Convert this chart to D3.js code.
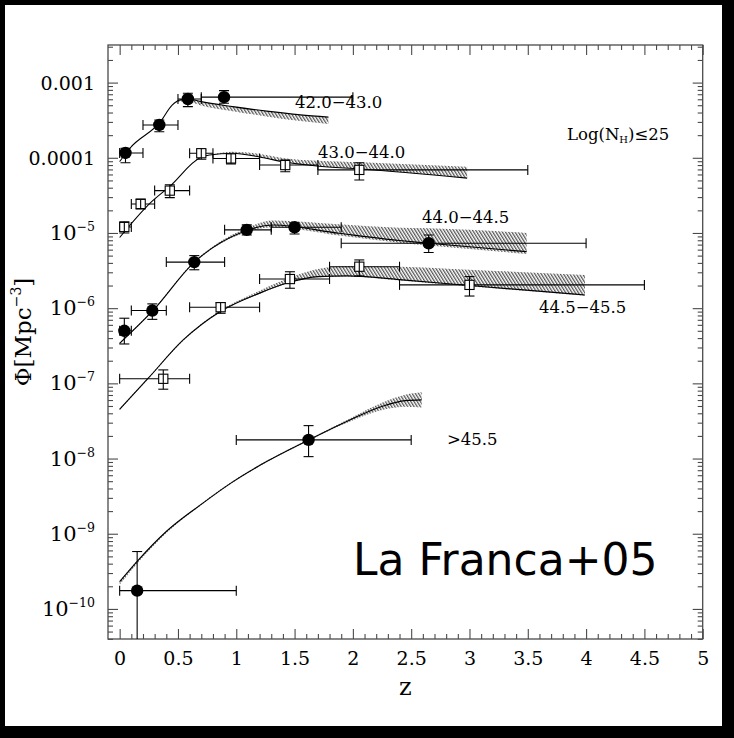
<!DOCTYPE html>
<html>
<head>
<meta charset="utf-8">
<script src="https://cdn.jsdelivr.net/npm/d3@7"></script>
<style>
  html, body { margin: 0; padding: 0; background: #000; }
  svg { display: block; }
</style>
</head>
<body>
<svg id="chart" width="734" height="738"></svg>
<script>
// ---- Axis ticks ----
const xTickValues = [0, 0.5, 1, 1.5, 2, 2.5, 3, 3.5, 4, 4.5, 5];
const xTickLabels = ["0", "0.5", "1", "1.5", "2", "2.5", "3", "3.5", "4", "4.5", "5"];
const yTickValues = [1e-3, 1e-4, 1e-5, 1e-6, 1e-7, 1e-8, 1e-9, 1e-10];
const yTickBase   = ["0.001", "0.0001", "10", "10", "10", "10", "10", "10"];
const yTickExp    = ["", "", "\u22125", "\u22126", "\u22127", "\u22128", "\u22129", "\u221210"];

// ---- Luminosity bins: measured space densities with z and Phi error bars ----
const bin1Name = "42.0\u221243.0";
const bin1Z     = [0.05, 0.34, 0.585, 0.895];
const bin1ZLo   = [0, 0.2, 0.5, 0.7];
const bin1ZHi   = [0.2, 0.5, 0.7, 2.0];
const bin1Phi   = [1.16e-4, 2.73e-4, 6.05e-4, 6.4e-4];
const bin1PhiLo = [8.6e-5, 2.22e-4, 4.79e-4, 5.31e-4];
const bin1PhiHi = [1.34e-4, 3.18e-4, 7.21e-4, 7.82e-4];

const bin2Name = "43.0\u221244.0";
const bin2Z     = [0.04, 0.18, 0.43, 0.70, 0.955, 1.42, 2.055];
const bin2ZLo   = [0, 0.1, 0.3, 0.6, 0.8, 1.2, 1.7];
const bin2ZHi   = [0.1, 0.3, 0.6, 0.8, 1.2, 1.7, 3.5];
const bin2Phi   = [1.2e-5, 2.43e-5, 3.66e-5, 1.15e-4, 9.8e-5, 8.0e-5, 6.9e-5];
const bin2PhiLo = [1.0e-5, 2.09e-5, 2.95e-5, 9.55e-5, 8.3e-5, 6.53e-5, 5.07e-5];
const bin2PhiHi = [1.41e-5, 2.82e-5, 4.37e-5, 1.27e-4, 1.1e-4, 9.33e-5, 8.6e-5];

const bin3Name = "44.0\u221244.5";
const bin3Z     = [0.04, 0.28, 0.64, 1.09, 1.50, 2.65];
const bin3ZLo   = [0, 0.1, 0.4, 0.9, 1.3, 1.9];
const bin3ZHi   = [0.1, 0.4, 0.9, 1.3, 1.9, 4.0];
const bin3Phi   = [5.0e-7, 9.3e-7, 4.1e-6, 1.1e-5, 1.19e-5, 7.3e-6];
const bin3PhiLo = [3.34e-7, 7.1e-7, 3.24e-6, 9.4e-6, 9.7e-6, 5.5e-6];
const bin3PhiHi = [7.35e-7, 1.14e-6, 5.0e-6, 1.28e-5, 1.37e-5, 9.4e-6];

const bin4Name = "44.5\u221245.5";
const bin4Z     = [0.374, 0.866, 1.46, 2.055, 3.0];
const bin4ZLo   = [0, 0.6, 1.2, 1.8, 2.4];
const bin4ZHi   = [0.6, 1.2, 1.8, 2.4, 4.5];
const bin4Phi   = [1.15e-7, 1.03e-6, 2.44e-6, 3.56e-6, 2.04e-6];
const bin4PhiLo = [8.36e-8, 8.55e-7, 1.84e-6, 2.68e-6, 1.45e-6];
const bin4PhiHi = [1.51e-7, 1.18e-6, 3.05e-6, 4.38e-6, 2.63e-6];

const bin5Name = ">45.5";
const bin5Z     = [0.15, 1.62];
const bin5ZLo   = [0, 1.0];
const bin5ZHi   = [1.0, 2.5];
const bin5Phi   = [1.75e-10, 1.77e-8];
const bin5PhiLo = [1e-12, 1.06e-8];
const bin5PhiHi = [5.8e-10, 2.74e-8];

// ---- Model curves with their uncertainty bands ----
const model1Z     = [0, 0.09, 0.35, 0.45, 0.52, 0.60, 0.69, 0.97, 1.26, 1.55, 1.79];
const model1Phi   = [8.91e-5, 1.349e-4, 3.02e-4, 5.01e-4, 5.89e-4, 6.03e-4, 5.62e-4, 4.79e-4, 4.17e-4, 3.72e-4, 3.47e-4];
const model1Upper = [8.91e-5, 1.349e-4, 3.02e-4, 5.01e-4, 5.89e-4, 6.03e-4, 5.62e-4, 4.79e-4, 4.17e-4, 3.72e-4, 3.47e-4];
const model1Lower = [8.91e-5, 1.349e-4, 3.02e-4, 5.01e-4, 5.62e-4, 5.50e-4, 5.01e-4, 4.17e-4, 3.55e-4, 3.09e-4, 2.82e-4];

const model2Z     = [0, 0.27, 0.43, 0.69, 0.77, 0.97, 1.2, 1.43, 1.69, 2.07, 2.98];
const model2Phi   = [8.71e-6, 2.57e-5, 4.17e-5, 1.0e-4, 1.089e-4, 1.148e-4, 1.023e-4, 8.71e-5, 7.76e-5, 7.08e-5, 5.37e-5];
const model2Upper = [8.71e-6, 2.57e-5, 4.17e-5, 1.0e-4, 1.089e-4, 1.202e-4, 1.122e-4, 9.77e-5, 9.12e-5, 8.71e-5, 7.59e-5];
const model2Lower = [8.71e-6, 2.57e-5, 4.17e-5, 1.0e-4, 1.089e-4, 1.148e-4, 1.023e-4, 8.71e-5, 7.76e-5, 7.08e-5, 5.37e-5];

const model3Z     = [0, 0.29, 0.63, 1.06, 1.32, 1.88, 2.4, 2.65, 3.49];
const model3Phi   = [3.41e-7, 9.46e-7, 3.95e-6, 1.04e-5, 1.276e-5, 9.91e-6, 7.94e-6, 7.29e-6, 5.64e-6];
const model3Upper = [3.49e-7, 9.68e-7, 4.05e-6, 1.114e-5, 1.466e-5, 1.306e-5, 1.175e-5, 1.156e-5, 1.002e-5];
const model3Lower = [3.33e-7, 9.25e-7, 3.86e-6, 9.93e-6, 1.191e-5, 9.25e-6, 7.41e-6, 6.81e-6, 5.26e-6];

const model4Z     = [0, 0.245, 0.545, 0.86, 1.2, 1.45, 1.7, 1.95, 2.4, 3.0, 3.99];
const model4Phi   = [4.52e-8, 1.17e-7, 3.78e-7, 8.97e-7, 1.585e-6, 2.19e-6, 2.63e-6, 2.69e-6, 2.40e-6, 2.0e-6, 1.50e-6];
const model4Upper = [4.62e-8, 1.197e-7, 3.86e-7, 9.29e-7, 1.70e-6, 2.51e-6, 3.31e-6, 3.63e-6, 3.55e-6, 3.24e-6, 2.76e-6];
const model4Lower = [4.42e-8, 1.143e-7, 3.69e-7, 8.77e-7, 1.549e-6, 2.14e-6, 2.57e-6, 2.63e-6, 2.34e-6, 1.95e-6, 1.466e-6];

const model5Z     = [0, 0.16, 0.40, 0.69, 0.97, 1.26, 1.62, 1.97, 2.26, 2.45, 2.59];
const model5Phi   = [2.31e-10, 4.47e-10, 1.07e-9, 2.40e-9, 4.90e-9, 9.12e-9, 1.766e-8, 3.24e-8, 5.01e-8, 5.89e-8, 6.03e-8];
const model5Upper = [2.36e-10, 4.57e-10, 1.09e-9, 2.45e-9, 5.01e-9, 9.33e-9, 1.81e-8, 3.39e-8, 5.62e-8, 7.08e-8, 7.59e-8];
const model5Lower = [2.10e-10, 4.17e-10, 1.02e-9, 2.34e-9, 4.79e-9, 8.91e-9, 1.726e-8, 3.09e-8, 4.47e-8, 4.90e-8, 4.79e-8];

// ---- Assemble tables ----
function points(z, zlo, zhi, phi, plo, phi_hi) {
  return z.map((v, i) => ({ z: v, zlo: zlo[i], zhi: zhi[i], phi: phi[i], lo: plo[i], hi: phi_hi[i] }));
}
function curve(z, phi, up, low) {
  return z.map((v, i) => ({ z: v, phi: phi[i], hi: up[i], lo: low[i] }));
}
const bins = [
  { name: bin1Name, marker: "circle", pts: points(bin1Z, bin1ZLo, bin1ZHi, bin1Phi, bin1PhiLo, bin1PhiHi), model: curve(model1Z, model1Phi, model1Upper, model1Lower) },
  { name: bin2Name, marker: "square", pts: points(bin2Z, bin2ZLo, bin2ZHi, bin2Phi, bin2PhiLo, bin2PhiHi), model: curve(model2Z, model2Phi, model2Upper, model2Lower) },
  { name: bin3Name, marker: "circle", pts: points(bin3Z, bin3ZLo, bin3ZHi, bin3Phi, bin3PhiLo, bin3PhiHi), model: curve(model3Z, model3Phi, model3Upper, model3Lower) },
  { name: bin4Name, marker: "square", pts: points(bin4Z, bin4ZLo, bin4ZHi, bin4Phi, bin4PhiLo, bin4PhiHi), model: curve(model4Z, model4Phi, model4Upper, model4Lower) },
  { name: bin5Name, marker: "circle", pts: points(bin5Z, bin5ZLo, bin5ZHi, bin5Phi, bin5PhiLo, bin5PhiHi), model: curve(model5Z, model5Phi, model5Upper, model5Lower) }
];

// ---- Layout ----
const W = 734, H = 738;
const plot = { left: 108, right: 702.7, top: 45, bottom: 639 };
const frameColor = "#4a4a4a";
const serif = "'DejaVu Serif', serif";

const svg = d3.select("#chart");
svg.append("rect").attr("width", W).attr("height", H).attr("fill", "#000");
svg.append("rect").attr("x", 5).attr("y", 5).attr("width", 717).attr("height", 721).attr("fill", "#fff");

const x = d3.scaleLinear().domain([-0.1, 5]).range([plot.left, plot.right]);
const y = d3.scaleLog().domain([Math.pow(10, -10.4), Math.pow(10, -2.5)]).range([plot.bottom, plot.top]);

const defs = svg.append("defs");
defs.append("clipPath").attr("id", "plotClip")
  .append("rect")
  .attr("x", plot.left).attr("y", plot.top)
  .attr("width", plot.right - plot.left).attr("height", plot.bottom - plot.top);

const hatch = defs.append("pattern")
  .attr("id", "hatch")
  .attr("patternUnits", "userSpaceOnUse")
  .attr("width", 2.7).attr("height", 10)
  .attr("patternTransform", "rotate(-32)");
hatch.append("line")
  .attr("x1", 0.7).attr("y1", 0).attr("x2", 0.7).attr("y2", 10)
  .attr("stroke", "#1c1c1c").attr("stroke-width", 0.95);

// ---- Ticks ----
const xMinor = d3.range(1, 50).map(i => i / 10).filter(v => Math.abs(v * 2 - Math.round(v * 2)) > 1e-6);
const yMinor = [];
for (let e = -11; e <= -3; e++) for (let m = 2; m <= 9; m++) {
  const v = m * Math.pow(10, e);
  if (v > y.domain()[0] && v < y.domain()[1]) yMinor.push(v);
}

function styleAxis(g) {
  g.select(".domain").remove();
  g.selectAll(".tick line").attr("stroke", frameColor).attr("stroke-width", 1.1);
}

// bottom
svg.append("g").attr("transform", `translate(0,${plot.bottom})`)
  .call(d3.axisBottom(x).tickValues(xMinor).tickSize(-5).tickSizeOuter(0).tickFormat(""))
  .call(styleAxis);
const xAxisMajor = svg.append("g").attr("transform", `translate(0,${plot.bottom})`)
  .call(d3.axisBottom(x).tickValues(xTickValues).tickSize(-10).tickSizeOuter(0).tickPadding(13)
    .tickFormat((d, i) => xTickLabels[i]))
  .call(styleAxis);
xAxisMajor.selectAll(".tick text").attr("font-family", serif).attr("font-size", 19).attr("fill", "#000");

// top
svg.append("g").attr("transform", `translate(0,${plot.top})`)
  .call(d3.axisTop(x).tickValues(xMinor).tickSize(-5).tickSizeOuter(0).tickFormat(""))
  .call(styleAxis);
svg.append("g").attr("transform", `translate(0,${plot.top})`)
  .call(d3.axisTop(x).tickValues(xTickValues).tickSize(-10).tickSizeOuter(0).tickFormat(""))
  .call(styleAxis);

// left and right
[["left", plot.left, d3.axisLeft], ["right", plot.right, d3.axisRight]].forEach(([side, px, ax]) => {
  svg.append("g").attr("transform", `translate(${px},0)`)
    .call(ax(y).tickValues(yMinor).tickSize(-5).tickSizeOuter(0).tickFormat(""))
    .call(styleAxis);
  svg.append("g").attr("transform", `translate(${px},0)`)
    .call(ax(y).tickValues(yTickValues).tickSize(-10).tickSizeOuter(0).tickFormat(""))
    .call(styleAxis);
});

// y tick labels (decimal or power of ten)
const yLab = svg.append("g").attr("font-family", serif).attr("fill", "#000");
yTickValues.forEach((v, i) => {
  const t = yLab.append("text")
    .attr("x", 95).attr("y", y(v) + 7)
    .attr("text-anchor", "end");
  if (yTickExp[i]) {
    t.append("tspan").attr("font-size", 21).text(yTickBase[i]);
    t.append("tspan").attr("font-size", 12.5).attr("dy", -9).text(yTickExp[i]);
  } else {
    t.attr("font-size", 19).text(yTickBase[i]);
  }
});

// frame
svg.append("rect")
  .attr("x", plot.left).attr("y", plot.top)
  .attr("width", plot.right - plot.left).attr("height", plot.bottom - plot.top)
  .attr("fill", "none").attr("stroke", frameColor).attr("stroke-width", 1.3);

// axis titles
svg.append("text")
  .attr("x", (plot.left + plot.right) / 2).attr("y", 695)
  .attr("text-anchor", "middle").attr("font-family", serif).attr("font-size", 24)
  .text("z");
const yTitle = svg.append("text")
  .attr("transform", "translate(31,332) rotate(-90)")
  .attr("text-anchor", "middle").attr("font-family", serif).attr("font-size", 23);
yTitle.append("tspan").text("\u03A6[Mpc");
yTitle.append("tspan").attr("font-size", 14).attr("dy", -10).text("\u22123");
yTitle.append("tspan").attr("dy", 10).text("]");

// ---- Data layer ----
const layer = svg.append("g").attr("clip-path", "url(#plotClip)");

const band = d3.area()
  .x(d => x(d.z)).y0(d => y(d.lo)).y1(d => y(d.hi))
  .curve(d3.curveMonotoneX);
const line = d3.line()
  .x(d => x(d.z)).y(d => y(d.phi))
  .curve(d3.curveMonotoneX);

bins.forEach(b => {
  const g = layer.append("g");
  g.append("path").datum(b.model).attr("d", band).attr("fill", "url(#hatch)");
  g.append("path").datum(b.model).attr("d", line)
    .attr("fill", "none").attr("stroke", "#000").attr("stroke-width", 1.1);
});

const cap = 5;
const sq = 4.6;
bins.forEach(b => {
  const g = layer.append("g").attr("stroke", "#000").attr("stroke-width", 1.1);
  b.pts.forEach(p => {
    const cx = x(p.z), cy = y(p.phi);
    const x0 = x(p.zlo), x1 = x(p.zhi);
    const y0 = y(p.lo), y1 = y(p.hi);
    // horizontal bar and end caps
    g.append("line").attr("x1", x0).attr("x2", x1).attr("y1", cy).attr("y2", cy);
    g.append("line").attr("x1", x0).attr("x2", x0).attr("y1", cy - cap).attr("y2", cy + cap);
    g.append("line").attr("x1", x1).attr("x2", x1).attr("y1", cy - cap).attr("y2", cy + cap);
    // vertical bar and caps
    g.append("line").attr("x1", cx).attr("x2", cx).attr("y1", y0).attr("y2", y1);
    g.append("line").attr("x1", cx - cap).attr("x2", cx + cap).attr("y1", y0).attr("y2", y0);
    g.append("line").attr("x1", cx - cap).attr("x2", cx + cap).attr("y1", y1).attr("y2", y1);
    if (b.marker === "circle") {
      g.append("circle").attr("cx", cx).attr("cy", cy).attr("r", 6.2).attr("fill", "#000").attr("stroke", "none");
    } else {
      g.append("rect").attr("x", cx - sq).attr("y", cy - sq).attr("width", 2 * sq).attr("height", 2 * sq)
        .attr("fill", "#fff").attr("stroke", "#000");
      g.append("line").attr("x1", cx).attr("x2", cx).attr("y1", cy - sq).attr("y2", cy + sq);
    }
  });
});

// ---- Annotations ----
const ann = svg.append("g").attr("font-family", serif).attr("font-size", 16.5).attr("fill", "#000");
ann.append("text").attr("x", 295).attr("y", 108).text(bins[0].name);
ann.append("text").attr("x", 318).attr("y", 158).text(bins[1].name);
ann.append("text").attr("x", 422).attr("y", 223).text(bins[2].name);
ann.append("text").attr("x", 539).attr("y", 313).text(bins[3].name);
ann.append("text").attr("x", 447).attr("y", 445).text(bins[4].name);
const nh = ann.append("text").attr("x", 567).attr("y", 140);
nh.append("tspan").text("Log(N");
nh.append("tspan").attr("font-size", 10).attr("dy", 3).text("H");
nh.append("tspan").attr("dy", -3).text(")\u226425");

svg.append("text")
  .attr("x", 353).attr("y", 575)
  .attr("font-family", "'DejaVu Sans', sans-serif").attr("font-size", 44).attr("fill", "#000")
  .text("La Franca+05");
</script>
</body>
</html>
